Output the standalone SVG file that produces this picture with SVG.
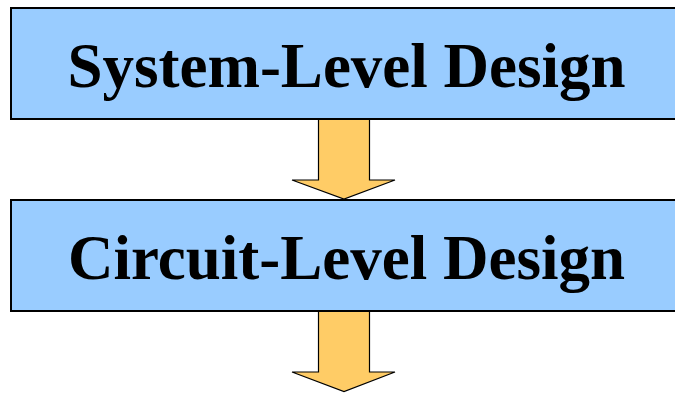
<svg xmlns="http://www.w3.org/2000/svg" width="675" height="393" viewBox="0 0 675 393">
  <style>
    .box { fill: #99CCFF; stroke: #000; stroke-width: 2; }
    .label { font-family: "Liberation Serif", "Times New Roman", serif; font-weight: bold; font-size: 63px; fill: #000; text-anchor: middle; }
    .flow { fill: #FFCC66; stroke: #000; stroke-width: 1.2; stroke-linejoin: miter; }
  </style>
  <rect width="675" height="393" fill="#fff"/>
  <g id="connectors">
    <polygon class="flow" points="318.5,119 369.5,119 369.5,180 395,180 344,199 292,180 318.5,180"/>
    <polygon class="flow" points="318.5,311 369.5,311 369.5,372 395,372 344,391.5 292,372 318.5,372"/>
  </g>
  <g id="system-level">
    <rect class="box" x="11" y="8" width="690" height="111"/>
    <text class="label" x="346.5" y="87">System-Level Design</text>
  </g>
  <g id="circuit-level">
    <rect class="box" x="11" y="200" width="690" height="111"/>
    <text class="label" x="346.5" y="279">Circuit-Level Design</text>
  </g>
</svg>
